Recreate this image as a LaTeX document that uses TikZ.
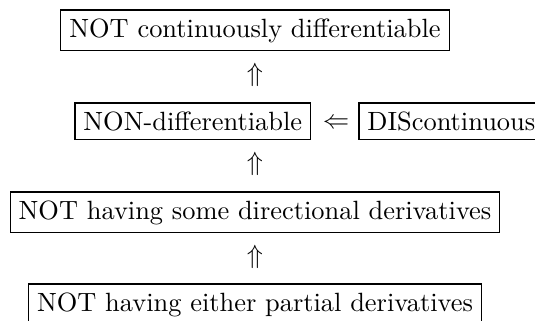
\documentclass[tikz,border=0pt]{standalone}
\usetikzlibrary{positioning}
\def\totalwidth{535}
\def\totalheight{321}
\def\midcol{255}
\tikzstyle{statebox}             = [draw,rectangle,inner sep=3.2pt,outer sep=0pt,
                                    line width=0.4pt]
\tikzstyle{implies}              = [inner sep=0pt,outer sep=0pt]
\begin{document}
\begin{tikzpicture}[x=0.3788pt,y=-0.3788pt]
        \useasboundingbox (0,0) rectangle (\totalwidth,\totalheight);

        % Top row
        \node[statebox,anchor=north] (cdiff) at (\midcol,10) {NOT continuously differentiable};
        \node[implies] (up1) at (\midcol,75) {$\Uparrow$};

        % Middle row
        \node[statebox,anchor=north west] (ndiff) at (75,103) {NON-differentiable};
        \node[implies] (left) at (336,124) {$\Leftarrow$};
        \node[statebox,anchor=north west] (dcont) at (359,103) {DIScontinuous};
        \node[implies] (up2) at (\midcol,164) {$\Uparrow$};

        % Lower rows
        \node[statebox,anchor=north] (ndir) at (\midcol,192) {NOT having some directional derivatives};
        \node[implies] (up3) at (\midcol,257) {$\Uparrow$};
        \node[statebox,anchor=north] (npart) at (\midcol,284) {NOT having either partial derivatives};
    \end{tikzpicture}
\end{document}
